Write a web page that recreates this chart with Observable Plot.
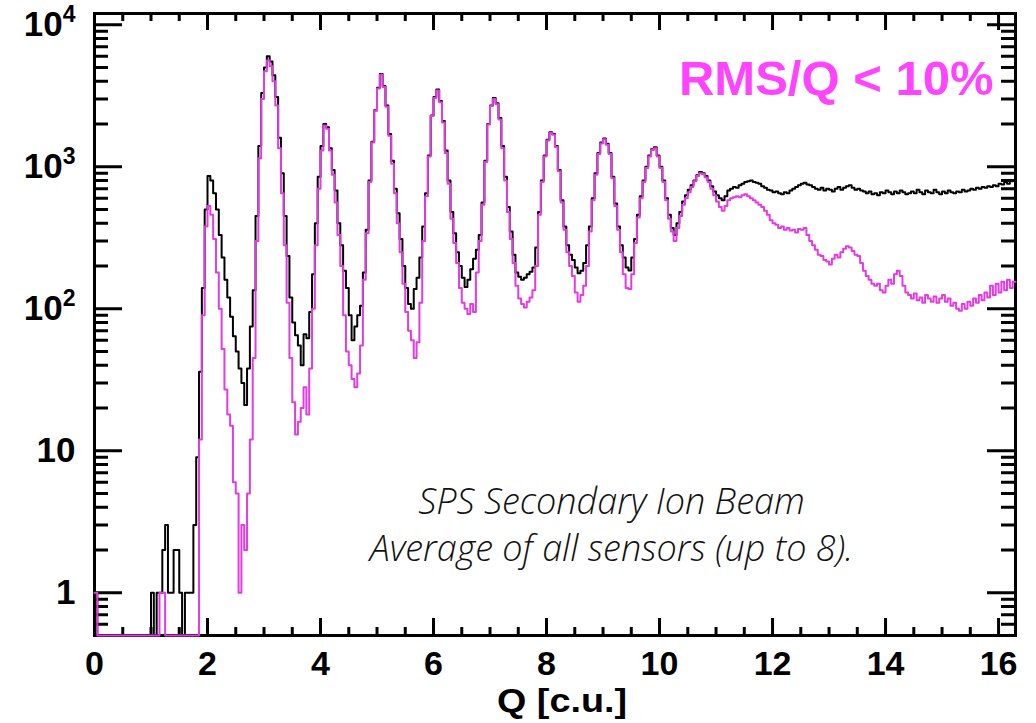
<!DOCTYPE html>
<html><head><meta charset="utf-8">
<script src="https://cdn.jsdelivr.net/npm/d3@7"></script>
<script src="https://cdn.jsdelivr.net/npm/@observablehq/plot@0.6"></script>
<style>html,body{margin:0;padding:0;background:#fff;}</style>
</head><body><div id="chart"></div>
<script>
// ---- data ----
const binWidth = 0.05;      // Q [c.u.] per bin, bins start at 0
const xMax = 16.3;
const yDomain = [0.5, 12000];

// black: all events
const countsAll = [
1,0,0,0,0,0,0,0,0,0,
0,0,0,0,0,0,0,0,0,0,
1,0,1,1,2,3,1,1,2,2,
1,0,1,1,1,3,9,36,140,500,
860,800,650,500,330,230,160,120,88,64,
50,38,30,21,38,75,135,450,1400,3300,
5000,6000,5500,4400,3100,1600,900,450,235,120,
80,65,55,40,66,62,95,175,400,850,
1400,2000,1900,1350,950,680,400,280,185,140,
90,60,75,90,105,180,360,800,1500,2500,
3600,4500,3700,2700,1700,1100,700,470,310,200,
140,108,100,138,165,230,380,650,1200,2300,
3100,3500,2900,2100,1300,800,480,340,250,200,
165,142,160,190,225,260,330,560,1100,2000,
2700,3050,2800,2200,1400,850,520,350,240,180,
168,160,165,175,182,195,270,480,800,1200,
1550,1750,1700,1400,950,580,380,280,240,220,
195,178,185,210,280,380,600,900,1250,1480,
1580,1450,1250,850,550,380,280,230,195,186,
230,310,460,620,800,1000,1200,1330,1370,1200,
1000,800,600,460,370,330,400,480,570,630,
690,740,800,870,920,900,860,800,730,670,
630,600,580,620,680,700,720,710,740,760,
780,790,800,780,770,760,730,710,690,680,
660,670,650,640,660,650,680,700,720,740,
760,770,750,740,720,700,690,710,680,700,
690,670,700,720,690,710,730,740,710,690,
700,680,670,650,670,640,650,630,660,650,
680,660,640,670,650,680,660,640,650,670,
650,690,660,640,680,660,650,690,660,640,
670,650,680,660,650,670,660,690,670,680,
700,690,710,700,720,710,730,720,740,730,
760,750,780,760,790,800
];

// magenta: RMS/Q < 10%
const countsCut = [
1,0,0,0,0,0,0,0,0,0,
0,0,0,0,0,0,0,0,0,0,
0,0,0,1,1,0,0,0,0,0,
0,0,0,0,0,0,0,12,90,380,
530,460,310,180,100,52,27,18,15,6,
5,1,3,2,5,12,45,300,1150,3000,
4700,5600,5100,4000,2700,1350,650,280,110,45,
22,13,16,20,28,18,38,100,280,700,
1300,1950,1850,1300,880,560,330,200,90,50,
40,32,28,35,55,160,340,780,1480,2480,
3550,4450,3650,2650,1650,1050,650,400,250,150,
95,70,60,45,58,110,300,620,1180,2280,
3050,3450,2850,2050,1250,760,430,290,210,140,
110,100,92,108,95,180,300,540,1080,1980,
2680,3000,2750,2150,1350,800,480,310,210,145,
118,108,102,112,120,135,200,460,780,1180,
1530,1730,1680,1380,930,560,360,250,200,170,
130,112,125,145,200,350,580,880,1230,1460,
1560,1430,1230,830,530,360,250,175,140,138,
175,290,440,600,780,980,1180,1310,1350,1180,
980,780,580,430,350,300,370,450,540,600,
660,720,790,860,900,890,840,780,700,630,
570,520,490,530,580,600,610,620,610,630,
640,620,600,580,560,540,520,490,460,420,
400,390,370,380,360,370,355,360,345,365,
360,370,330,300,280,260,240,235,220,215,
205,225,240,230,250,265,275,270,255,240,
235,210,185,170,160,150,145,150,135,130,
145,160,150,175,185,170,145,130,125,118,
128,115,120,110,125,118,112,122,110,118,
125,112,118,105,110,100,97,108,100,112,
105,118,110,125,115,130,120,145,125,150,
130,155,135,160,140,155
];

const xMajorTicks = [0, 2, 4, 6, 8, 10, 12, 14, 16];
const xMinorTicks = [0.5, 1, 1.5, 2.5, 3, 3.5, 4.5, 5, 5.5, 6.5, 7, 7.5, 8.5, 9, 9.5, 10.5, 11, 11.5, 12.5, 13, 13.5, 14.5, 15, 15.5];
const yMajorTicks = [1, 10, 100, 1000, 10000];
const yMajorExponents = ["", "", "2", "3", "4"];   // labels: 1, 10, 10^2, 10^3, 10^4
const yMinorTicks = [0.6, 0.7, 0.8, 0.9, 2, 3, 4, 5, 6, 7, 8, 9, 20, 30, 40, 50, 60, 70, 80, 90,
  200, 300, 400, 500, 600, 700, 800, 900, 2000, 3000, 4000, 5000, 6000, 7000, 8000, 9000];

const labelCut = "RMS/Q < 10%";
const noteLine1 = "SPS Secondary Ion Beam";
const noteLine2 = "Average of all sensors (up to 8).";
const xLabel = "Q [c.u.]";

// ---- layout ----
const W = 1036, H = 723, mL = 94, mR = 21, mT = 13, mB = 88;
const plotW = W - mL - mR, plotH = H - mT - mB;
const black = "#000000", magenta = "#e23be2", textMagenta = "#ff44ff";
const helv = "'Liberation Sans', Arial, Helvetica, sans-serif";

function rows(counts) {
  const r = counts.map((v, i) => ({x: i * binWidth, y: Math.max(v, yDomain[0])}));
  r.push({x: xMax, y: Math.max(counts[counts.length - 1], yDomain[0])});
  return r;
}
function yLabel(d) {
  const i = yMajorTicks.indexOf(d);
  return yMajorExponents[i] ? "10^" + yMajorExponents[i] : String(d);
}

const chart = Plot.plot({
  width: W, height: H,
  marginLeft: mL, marginRight: mR, marginTop: mT, marginBottom: mB,
  style: {fontFamily: helv, background: "#fff", color: "#000"},
  x: {domain: [0, xMax]},
  y: {type: "log", domain: yDomain},
  marks: [
    Plot.frame({stroke: black, strokeWidth: 3}),
    Plot.tickX(xMajorTicks, {x: d => d, insetTop: plotH - 17, stroke: black, strokeWidth: 3}),
    Plot.tickX(xMinorTicks, {x: d => d, insetTop: plotH - 8, stroke: black, strokeWidth: 3}),
    Plot.tickX(xMajorTicks, {x: d => d, insetBottom: plotH - 17, stroke: black, strokeWidth: 3}),
    Plot.tickX(xMinorTicks, {x: d => d, insetBottom: plotH - 8, stroke: black, strokeWidth: 3}),
    Plot.tickY(yMajorTicks, {y: d => d, insetRight: plotW - 28, stroke: black, strokeWidth: 3}),
    Plot.tickY(yMinorTicks, {y: d => d, insetRight: plotW - 14, stroke: black, strokeWidth: 3}),
    Plot.tickY(yMajorTicks, {y: d => d, insetLeft: plotW - 28, stroke: black, strokeWidth: 3}),
    Plot.tickY(yMinorTicks, {y: d => d, insetLeft: plotW - 14, stroke: black, strokeWidth: 3}),
    Plot.line(rows(countsAll), {x: "x", y: "y", curve: "step-after", stroke: black, strokeWidth: 2}),
    Plot.line(rows(countsCut), {x: "x", y: "y", curve: "step-after", stroke: magenta, strokeWidth: 2}),
    Plot.axisX({ticks: xMajorTicks, tickSize: 0, tickPadding: 15, tickFormat: d => String(d),
      label: null, fontSize: 34, fontWeight: "bold", fill: black}),
    Plot.axisY({ticks: yMajorTicks, tickSize: 0, tickPadding: 19, tickFormat: yLabel,
      label: null, fontSize: 35, fontWeight: "bold", fill: black}),
    Plot.text([xLabel], {text: d => d, frameAnchor: "bottom", dx: 7, dy: 66, lineAnchor: "middle",
      fontSize: 34, fontWeight: "bold", fill: black}),
    Plot.text([labelCut], {text: d => d, frameAnchor: "top-right", textAnchor: "end", dx: -22, dy: 66,
      lineAnchor: "middle", fontSize: 49, fontWeight: "bold", fill: textMagenta}),
    Plot.text([noteLine1], {text: d => d, frameAnchor: "top-left", dx: 517, dy: 489, lineAnchor: "middle",
      textAnchor: "middle", fontSize: 36, fontStyle: "italic", fontWeight: 300,
      fontFamily: "'Open Sans', sans-serif", fill: "#111"}),
    Plot.text([noteLine2], {text: d => d, frameAnchor: "top-left", dx: 517, dy: 536, lineAnchor: "middle",
      textAnchor: "middle", fontSize: 36, fontStyle: "italic", fontWeight: 300,
      fontFamily: "'Open Sans', sans-serif", fill: "#111"})
  ]
});

// render "10^n" tick labels with a real superscript, and widen the axis title
chart.querySelectorAll("text").forEach(t => {
  const m = /^10\^(\d)$/.exec(t.textContent);
  if (m) {
    t.textContent = "10";
    const sup = document.createElementNS("http://www.w3.org/2000/svg", "tspan");
    sup.setAttribute("dy", "-14");
    sup.setAttribute("font-size", "23");
    sup.textContent = m[1];
    t.appendChild(sup);
  } else if (t.textContent === xLabel) {
    t.setAttribute("textLength", "130");
    t.setAttribute("lengthAdjust", "spacingAndGlyphs");
  }
});
document.getElementById("chart").appendChild(chart);
</script>
</body></html>
